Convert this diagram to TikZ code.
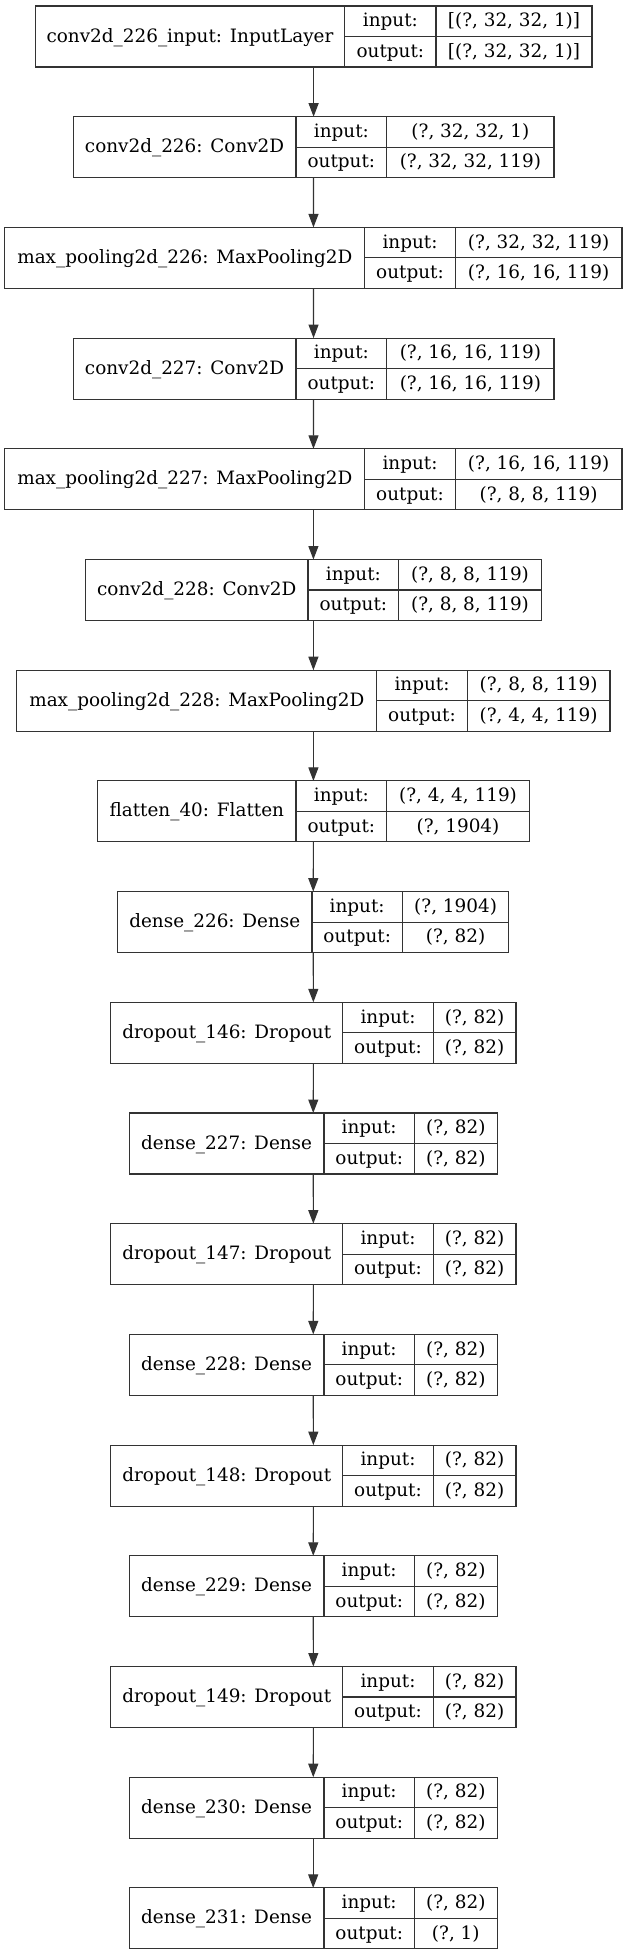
\documentclass[tikz,border=0pt]{standalone}
\usepackage{fontspec}
\setmainfont{DejaVu Serif}
\usetikzlibrary{arrows.meta}
\definecolor{edge}{gray}{0.2}
\tikzset{
  box/.style={draw=edge, line width=1.1pt, inner sep=0pt, outer sep=0pt, rectangle},
  ln/.style={draw=edge, line width=1.1pt},
  txt/.style={inner sep=0pt, anchor=base, font=\fontsize{18.4}{22}\selectfont},
  arr/.style={draw=edge, line width=1.1pt, -{Triangle[length=13.5pt, width=10pt]}}
}
\newcommand\mylayer[9]{%
  \pgfmathsetmacro\myT{6+#2*110.7}%
  \pgfmathsetmacro\myB{\myT+61}%
  \pgfmathsetmacro\myM{\myT+30.5}%
  \pgfmathsetmacro\myW{#6-#3}%
  \pgfmathsetmacro\myCx{(#3+#6)/2}%
  \pgfmathsetmacro\myLx{(#3+#4)/2}%
  \pgfmathsetmacro\myMx{(#4+#5)/2}%
  \pgfmathsetmacro\myRx{(#5+#6)/2}%
  \pgfmathsetmacro\myYa{\myT+15.25+5.5}%
  \pgfmathsetmacro\myYb{\myT+45.75+5.5}%
  \pgfmathsetmacro\myYl{\myM+5.5}%
  \node[box, minimum width=\myW pt, minimum height=61pt] (#1) at (\myCx,\myM) {};
  \draw[ln] (#4,\myT) -- (#4,\myB) (#5,\myT) -- (#5,\myB) (#4,\myM) -- (#6,\myM);
  \node[txt] (#1-lab) at (\myLx,\myYl) {#7};
  \node[txt] (#1-ik) at (\myMx,\myYa) {input:};
  \node[txt] (#1-ok) at (\myMx,\myYb) {output:};
  \node[txt] (#1-iv) at (\myRx,\myYa) {#8};
  \node[txt] (#1-ov) at (\myRx,\myYb) {#9};
}
\begin{document}
\begin{tikzpicture}[x=1pt, y=-1pt]
\useasboundingbox (0,0) rectangle (628,1955);
\mylayer{l0}{0}{35.2}{344.8}{436}{592}{conv2d\_226\_input: InputLayer}{[(?, 32, 32, 1)]}{[(?, 32, 32, 1)]}
\mylayer{l1}{1}{73.2}{296}{386.8}{554}{conv2d\_226: Conv2D}{(?, 32, 32, 1)}{(?, 32, 32, 119)}
\mylayer{l2}{2}{4.8}{364.8}{455.2}{622}{max\_pooling2d\_226: MaxPooling2D}{(?, 32, 32, 119)}{(?, 16, 16, 119)}
\mylayer{l3}{3}{73.2}{296}{386.8}{554}{conv2d\_227: Conv2D}{(?, 16, 16, 119)}{(?, 16, 16, 119)}
\mylayer{l4}{4}{4.8}{364.8}{455.2}{622}{max\_pooling2d\_227: MaxPooling2D}{(?, 16, 16, 119)}{(?, 8, 8, 119)}
\mylayer{l5}{5}{85.6}{308}{398.8}{541.2}{conv2d\_228: Conv2D}{(?, 8, 8, 119)}{(?, 8, 8, 119)}
\mylayer{l6}{6}{16.8}{376.8}{467.2}{610}{max\_pooling2d\_228: MaxPooling2D}{(?, 8, 8, 119)}{(?, 4, 4, 119)}
\mylayer{l7}{7}{97.6}{296}{386.8}{529.2}{flatten\_40: Flatten}{(?, 4, 4, 119)}{(?, 1904)}
\mylayer{l8}{8}{117.6}{312}{402.4}{508.8}{dense\_226: Dense}{(?, 1904)}{(?, 82)}
\mylayer{l9}{9}{110.8}{342.8}{433.2}{516}{dropout\_146: Dropout}{(?, 82)}{(?, 82)}
\mylayer{l10}{10}{129.2}{324}{414.4}{497.2}{dense\_227: Dense}{(?, 82)}{(?, 82)}
\mylayer{l11}{11}{110.8}{342.8}{433.2}{516}{dropout\_147: Dropout}{(?, 82)}{(?, 82)}
\mylayer{l12}{12}{129.2}{324}{414.4}{497.2}{dense\_228: Dense}{(?, 82)}{(?, 82)}
\mylayer{l13}{13}{110.8}{342.8}{433.2}{516}{dropout\_148: Dropout}{(?, 82)}{(?, 82)}
\mylayer{l14}{14}{129.2}{324}{414.4}{497.2}{dense\_229: Dense}{(?, 82)}{(?, 82)}
\mylayer{l15}{15}{110.8}{342.8}{433.2}{516}{dropout\_149: Dropout}{(?, 82)}{(?, 82)}
\mylayer{l16}{16}{129.2}{324}{414.4}{497.2}{dense\_230: Dense}{(?, 82)}{(?, 82)}
\mylayer{l17}{17}{129.2}{324}{414.4}{497.2}{dense\_231: Dense}{(?, 82)}{(?, 1)}
\foreach \a [evaluate=\a as \b using int(\a+1)] in {0,...,16} {
  \draw[arr] (l\a) -- (l\b);
}
\end{tikzpicture}
\end{document}
